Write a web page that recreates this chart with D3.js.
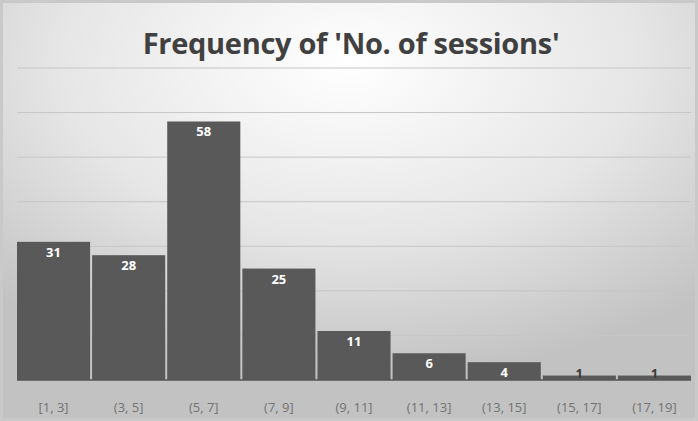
<!DOCTYPE html>
<html>
<head>
<meta charset="utf-8">
<script src="https://cdn.jsdelivr.net/npm/d3@7"></script>
<style>
  html, body { margin: 0; padding: 0; background: #fff; }
  svg { display: block; }
</style>
</head>
<body>
<svg id="chart" width="698" height="421"></svg>
<script>
// Histogram bins and their counts
const bins = ["[1, 3]", "(3, 5]", "(5, 7]", "(7, 9]", "(9, 11]", "(11, 13]", "(13, 15]", "(15, 17]", "(17, 19]"];
const counts = [31, 28, 58, 25, 11, 6, 4, 1, 1];
const yTicks = [0, 10, 20, 30, 40, 50, 60, 70];
const titleText = "Frequency of 'No. of sessions'";

const W = 698, H = 421;
const margin = { top: 68, right: 7, bottom: 41, left: 17 };
const svg = d3.select("#chart");

// Soft radial background
const defs = svg.append("defs");
const grad = defs.append("radialGradient")
  .attr("id", "bg").attr("cx", "50%").attr("cy", "15%").attr("r", "75%")
  .attr("gradientUnits", "objectBoundingBox");
grad.append("stop").attr("offset", "0%").attr("stop-color", "#ffffff");
grad.append("stop").attr("offset", "55%").attr("stop-color", "#e6e6e6");
grad.append("stop").attr("offset", "100%").attr("stop-color", "#c2c2c2");
svg.append("rect").attr("width", W).attr("height", H).attr("fill", "url(#bg)");
// Thin darker frame at the edges
svg.append("rect")
  .attr("x", 1.5).attr("y", 1.5).attr("width", W - 3).attr("height", H - 3)
  .attr("fill", "none").attr("stroke", "#c9c9c9").attr("stroke-width", 3);

const x = d3.scaleBand()
  .domain(bins)
  .range([margin.left, W - margin.right])
  .paddingInner(0.027)
  .paddingOuter(0);

const y = d3.scaleLinear()
  .domain([0, 70])
  .range([H - margin.bottom, margin.top]);

// Horizontal gridlines
svg.append("g")
  .selectAll("line")
  .data(yTicks.slice(1))
  .join("line")
  .attr("x1", margin.left).attr("x2", W - margin.right)
  .attr("y1", d => y(d)).attr("y2", d => y(d))
  .attr("stroke", "#c6c6c6").attr("stroke-width", 1);

// Bars
svg.append("g")
  .selectAll("rect")
  .data(counts)
  .join("rect")
  .attr("x", (d, i) => x(bins[i]))
  .attr("width", x.bandwidth())
  .attr("y", d => y(d))
  .attr("height", d => y(0) - y(d))
  .attr("fill", "#595959");

// Baseline
svg.append("line")
  .attr("x1", margin.left).attr("x2", W - margin.right)
  .attr("y1", y(0)).attr("y2", y(0))
  .attr("stroke", "#555555").attr("stroke-width", 1.5);

// Value labels
svg.append("g")
  .selectAll("text")
  .data(counts)
  .join("text")
  .attr("x", (d, i) => x(bins[i]) + x.bandwidth() / 2)
  .attr("y", d => {
    const h = y(0) - y(d);
    return h < 14 ? y(0) - 2 : y(d) + 15;
  })
  .attr("text-anchor", "middle")
  .attr("font-family", "'Open Sans', 'Liberation Sans', sans-serif")
  .attr("font-weight", "bold")
  .attr("font-size", 13)
  .attr("fill", d => (y(0) - y(d)) < 14 ? "#3a3a3a" : "#ffffff")
  .text(d => d);

// Category axis
const xAxis = svg.append("g")
  .attr("transform", `translate(0,${y(0)})`)
  .call(d3.axisBottom(x).tickSize(0).tickPadding(0));
xAxis.select(".domain").remove();
xAxis.selectAll("text")
  .attr("y", 27)
  .attr("dy", "0.35em")
  .attr("font-family", "'Open Sans', 'Liberation Sans', sans-serif")
  .attr("font-size", 13)
  .attr("fill", "#737373");

// Title
svg.append("text")
  .attr("x", W / 2 + 2)
  .attr("y", 54)
  .attr("text-anchor", "middle")
  .attr("font-family", "'Open Sans', 'Liberation Sans', sans-serif")
  .attr("font-weight", "bold")
  .attr("font-size", 29)
  .attr("letter-spacing", "-0.3")
  .attr("fill", "#404040")
  .text(titleText);
</script>
</body>
</html>
